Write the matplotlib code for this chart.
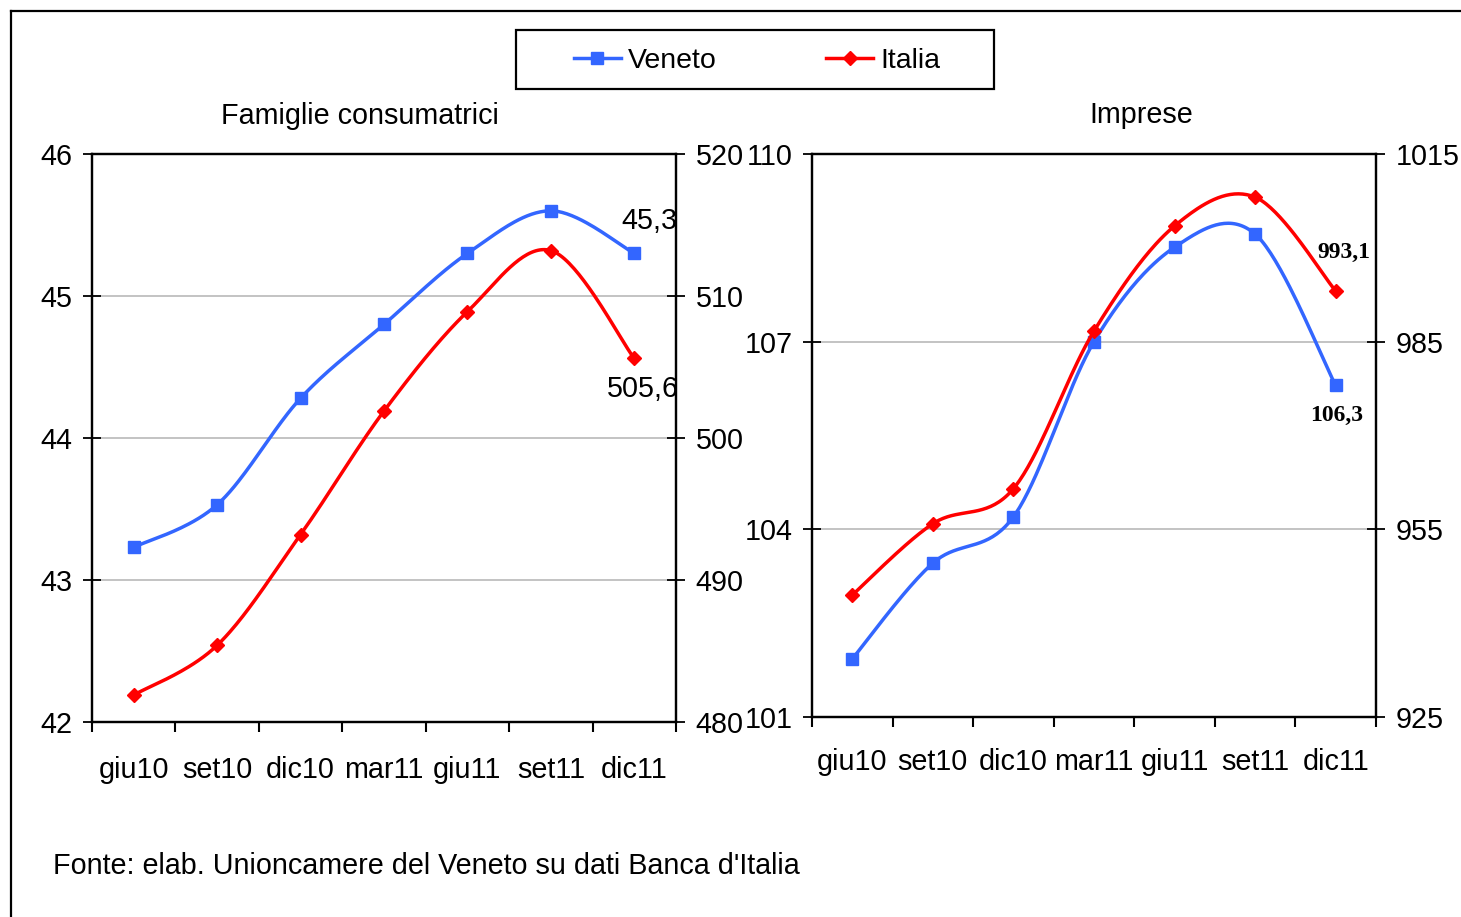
import numpy as np
import matplotlib
matplotlib.use("Agg")
import matplotlib.pyplot as plt
from matplotlib.lines import Line2D

# ---- data ----
categories = ['giu10', 'set10', 'dic10', 'mar11', 'giu11', 'set11', 'dic11']
fam_veneto = [43.23, 43.53, 44.28, 44.80, 45.30, 45.60, 45.30]
fam_italia = [481.9, 485.4, 493.2, 501.9, 508.9, 513.2, 505.6]
imp_veneto = [101.93, 103.46, 104.20, 107.00, 108.51, 108.72, 106.30]
imp_italia = [944.5, 955.9, 961.5, 986.7, 1003.5, 1008.1, 993.1]

fam_left_ticks = [42, 43, 44, 45, 46]
fam_right_ticks = [480, 490, 500, 510, 520]
imp_left_ticks = [101, 104, 107, 110]
imp_right_ticks = [925, 955, 985, 1015]

BLUE = '#3366FF'
RED = '#FF0000'
FONT = ['Liberation Sans', 'DejaVu Sans']
FS = 20.7

plt.rcParams['font.family'] = FONT

W, H = 1461, 917
fig = plt.figure(figsize=(W / 100, H / 100), dpi=100)


def smooth(x, y, n=40):
    pts = np.column_stack([x, y]).astype(float)
    P = np.vstack([pts[0], pts, pts[-1]])
    out = []
    t = np.linspace(0, 1, n)[:, None]
    for i in range(len(pts) - 1):
        p0, p1, p2, p3 = P[i], P[i + 1], P[i + 2], P[i + 3]
        c1 = p1 + (p2 - p0) / 6
        c2 = p2 - (p3 - p1) / 6
        b = (1 - t) ** 3 * p1 + 3 * (1 - t) ** 2 * t * c1 + 3 * (1 - t) * t ** 2 * c2 + t ** 3 * p2
        out.append(b if i == 0 else b[1:])
    r = np.vstack(out)
    return r[:, 0], r[:, 1]


def px(x0, y0, x1, y1):
    return [x0 / W, 1 - y1 / H, (x1 - x0) / W, (y1 - y0) / H]


def make_panel(rect, vL, vR, lt, rt, xpad):
    ax = fig.add_axes(rect)
    ax2 = ax.twinx()
    x = np.arange(len(categories))
    xs, ys = smooth(x, vL)
    ax.plot(xs, ys, color=BLUE, lw=2.5, zorder=3)
    ax.plot(x, vL, ls='none', marker='s', ms=8.4, color=BLUE, zorder=4)
    xs, ys = smooth(x, vR)
    ax2.plot(xs, ys, color=RED, lw=2.5, zorder=3)
    ax2.plot(x, vR, ls='none', marker='D', ms=7, color=RED, zorder=4)

    ax.set_xlim(-0.5, len(categories) - 0.5)
    ax.set_ylim(lt[0], lt[-1])
    ax2.set_ylim(rt[0], rt[-1])
    ax.set_yticks(lt)
    ax2.set_yticks(rt)
    ax.set_yticklabels([str(v) for v in lt])
    ax2.set_yticklabels([str(v) for v in rt])
    ax.set_xticks(x)
    ax.set_xticklabels(categories)
    ax.set_xticks(np.arange(-0.5, len(categories)), minor=True)
    ax.tick_params(axis='x', which='major', length=0, pad=xpad, labelsize=FS)
    ax.tick_params(axis='x', which='minor', length=7, width=1.5, direction='out')
    ax.tick_params(axis='y', length=13, width=1.3, direction='inout', pad=7.5, labelsize=FS)
    ax2.tick_params(axis='y', length=13, width=1.3, direction='inout', pad=7.5, labelsize=FS)
    ax.grid(axis='y', color='#BEBEBE', lw=1.3)
    ax.set_axisbelow(True)
    for a in (ax, ax2):
        for s in a.spines.values():
            s.set_linewidth(1.6)
            s.set_color('black')
    ax2.set_zorder(ax.get_zorder() + 1)
    ax2.patch.set_visible(False)
    return ax, ax2


axL, axL2 = make_panel(px(92, 154, 676, 722), fam_veneto, fam_italia,
                       fam_left_ticks, fam_right_ticks, xpad=24.5)
axR, axR2 = make_panel(px(812, 154, 1376, 717), imp_veneto, imp_italia,
                       imp_left_ticks, imp_right_ticks, xpad=22)

# value labels
n = len(categories) - 1
axL.annotate('45,3', (n, fam_veneto[-1]), xytext=(11, 23), textcoords='offset points',
             ha='center', va='center', fontsize=FS, annotation_clip=False)
axL2.annotate('505,6', (n, fam_italia[-1]), xytext=(6, -22), textcoords='offset points',
              ha='center', va='center', fontsize=FS, annotation_clip=False)
axR2.annotate('993,1', (n, imp_italia[-1]), xytext=(6, 28), textcoords='offset points',
              ha='center', va='center', fontsize=17, fontweight='bold',
              family='Liberation Serif', annotation_clip=False)
axR.annotate('106,3', (n, imp_veneto[-1]), xytext=(1, -21.5), textcoords='offset points',
             ha='center', va='center', fontsize=17, fontweight='bold',
             family='Liberation Serif', annotation_clip=False)

# titles
fig.text(360 / W, 1 - 123.5 / H, 'Famiglie consumatrici', ha='center', va='baseline', fontsize=FS)
fig.text(1141 / W, 1 - 123 / H, 'Imprese', ha='center', va='baseline', fontsize=FS)

# source
fig.text(53 / W, 1 - 874 / H, "Fonte: elab. Unioncamere del Veneto su dati Banca d'Italia",
         ha='left', va='baseline', fontsize=FS)

# legend
LFS = 20.5
handles = [Line2D([], [], color=BLUE, lw=2.5, marker='s', ms=8.4),
           Line2D([], [], color=RED, lw=2.5, marker='D', ms=7)]
fig.legend(handles, ['Veneto', 'Italia'], loc='center', ncol=2,
           bbox_to_anchor=(757 / W, 1 - 60.5 / H), frameon=False, fontsize=LFS,
           handlelength=1.65, handletextpad=0.25, columnspacing=3.85)
fig.add_artist(plt.Rectangle((516 / W, 1 - 89 / H), 478 / W, 59 / H, fill=False,
                             ec='black', lw=1.6, transform=fig.transFigure))

# outer frame (left and top edges)
fig.add_artist(Line2D([11 / W, 11 / W], [0, 1 - 11 / H], color='black', lw=1.6,
                      transform=fig.transFigure))
fig.add_artist(Line2D([11 / W, 1], [1 - 11 / H, 1 - 11 / H], color='black', lw=1.6,
                      transform=fig.transFigure))

fig.savefig('out.png', dpi=100)
